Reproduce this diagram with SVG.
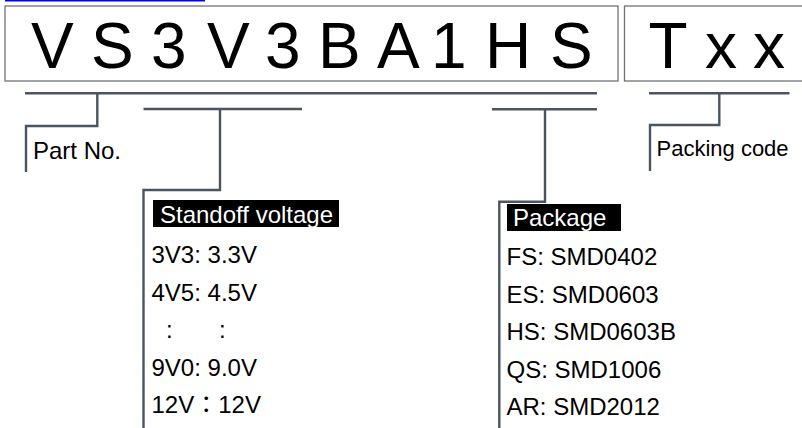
<svg xmlns="http://www.w3.org/2000/svg" width="802" height="428" viewBox="0 0 802 428">
<style>
.box{fill:#fff;stroke:#6e737a;stroke-width:1.3}
.big{font-family:"Liberation Sans",Arial,sans-serif;font-size:64px;fill:#000}
.lbl{font-family:"Liberation Sans",Arial,"Noto Sans CJK TC",sans-serif;font-size:24px;fill:#000}
.hdr{font-family:"Liberation Sans",Arial,sans-serif;font-size:24px;fill:#fff}
.ln{fill:none;stroke:#4a5561;stroke-width:2.4}
</style>
<rect width="802" height="428" fill="#fff"/>
<rect x="5" y="0" width="200" height="1.5" fill="#0000ff"/>
<g id="code">
<rect class="box" x="5" y="6" width="613" height="75"/>
<text class="big" x="31 91 151 207 265 318 377 431 485 550" y="68">VS3V3BA1HS</text>
</g>
<g id="packing">
<rect class="box" x="624.5" y="6" width="200" height="75"/>
<text class="big" x="648.5 705 753" y="68">Txx</text>
</g>
<g id="connectors">
<polyline class="ln" points="25,93.3 597,93.3"/>
<polyline class="ln" points="97.3,93.3 97.3,126 26,126 26,172"/>
<polyline class="ln" points="143.5,109 302,109"/>
<polyline class="ln" points="220,109 220,190 143.5,190 143.5,428"/>
<polyline class="ln" points="492,109.3 597,109.3"/>
<polyline class="ln" points="545,109.3 545,201.7 499.3,201.7 499.3,428"/>
<polyline class="ln" points="649,93.3 789.5,93.3"/>
<polyline class="ln" points="719.3,93.3 719.3,125 650,125 650,171"/>
</g>
<g id="partno">
<text class="lbl" x="33" y="158.5">Part No.</text>
</g>
<g id="packingcode">
<text class="lbl" x="656.5" y="156" style="font-size:22px">Packing code</text>
</g>
<g id="standoff">
<rect x="153" y="200" width="186" height="27" fill="#000"/>
<text class="hdr" x="160" y="222.5">Standoff voltage</text>
<text class="lbl" x="151.5" y="263">3V3: 3.3V</text>
<text class="lbl" x="151.5" y="300.5">4V5: 4.5V</text>
<text class="lbl" x="166" y="338">:<tspan x="219">:</tspan></text>
<text class="lbl" x="151.5" y="375.5">9V0: 9.0V</text>
<text class="lbl" x="151.5" y="413">12V：12V</text>
</g>
<g id="package">
<rect x="507" y="204" width="114" height="27" fill="#000"/>
<text class="hdr" x="513" y="226">Package</text>
<text class="lbl" x="506.5" y="265">FS: SMD0402</text>
<text class="lbl" x="506.5" y="302.5">ES: SMD0603</text>
<text class="lbl" x="506.5" y="340">HS: SMD0603B</text>
<text class="lbl" x="506.5" y="377.5">QS: SMD1006</text>
<text class="lbl" x="506.5" y="415">AR: SMD2012</text>
</g>
</svg>
